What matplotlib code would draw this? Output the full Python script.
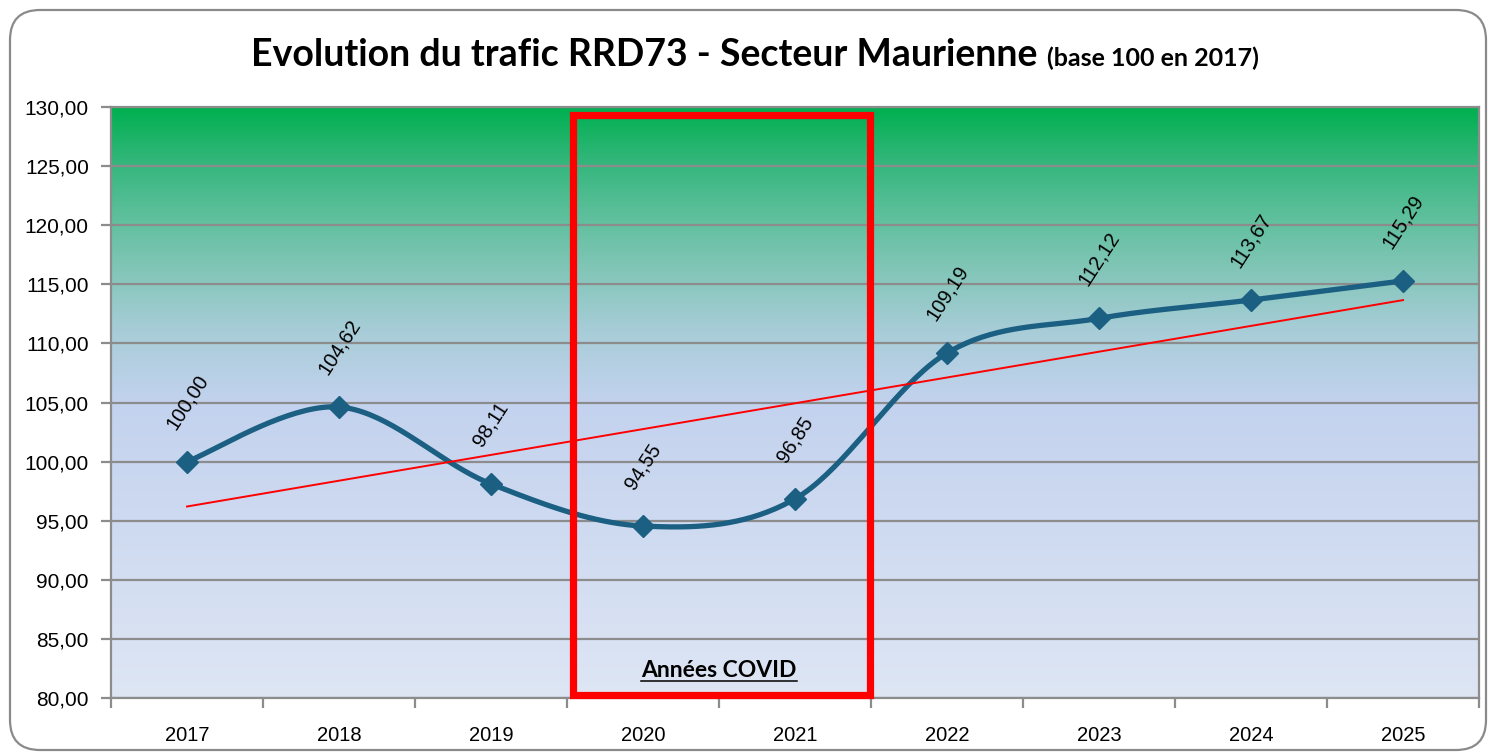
import numpy as np
import matplotlib
matplotlib.use('Agg')
import matplotlib.pyplot as plt
from matplotlib.colors import LinearSegmentedColormap
from matplotlib.patches import Rectangle, FancyBboxPatch

annees = ['2017', '2018', '2019', '2020', '2021', '2022', '2023', '2024', '2025']
trafic = [100.00, 104.62, 98.11, 94.55, 96.85, 109.19, 112.12, 113.67, 115.29]

y_min, y_max = 80, 130
covid_debut, covid_fin = 2.54, 4.49

line_col = '#1B5F82'
grid_col = '#8C8C8C'


def lissage(x, y, n=40):
    # lissage type Excel (bezier catmull-rom)
    px = np.concatenate([[x[0]], x, [x[-1]]])
    py = np.concatenate([[y[0]], y, [y[-1]]])
    xs, ys = [], []
    t = np.linspace(0, 1, n)
    for i in range(1, len(px) - 2):
        p0 = np.array([px[i], py[i]])
        p3 = np.array([px[i + 1], py[i + 1]])
        p1 = p0 + (np.array([px[i + 1], py[i + 1]]) - np.array([px[i - 1], py[i - 1]])) / 6
        p2 = p3 - (np.array([px[i + 2], py[i + 2]]) - np.array([px[i], py[i]])) / 6
        b = ((1 - t) ** 3)[:, None] * p0 + (3 * (1 - t) ** 2 * t)[:, None] * p1 \
            + (3 * (1 - t) * t ** 2)[:, None] * p2 + (t ** 3)[:, None] * p3
        xs.extend(b[:, 0]); ys.extend(b[:, 1])
    return np.array(xs), np.array(ys)


fig = plt.figure(figsize=(14.88, 7.52), dpi=100)
fig.patch.set_facecolor('white')

cadre = FancyBboxPatch((0.10, 0.02), 14.76, 7.40, boxstyle='round,pad=0,rounding_size=0.3',
                       transform=fig.dpi_scale_trans, facecolor='none', edgecolor='#8A8A8A',
                       linewidth=1.6, zorder=-1)
fig.patches.append(cadre)

ax = fig.add_axes([0.0746, 0.0718, 0.9194, 0.7859])
ax.set_xlim(-0.5, len(annees) - 0.5)
ax.set_ylim(y_min, y_max)

# fond en degrade
cmap = LinearSegmentedColormap.from_list('fond', [
    (0.0, '#DEE6F4'),
    (0.5, '#C3D2EE'),
    (0.62, '#A8CDD8'),
    (0.72, '#84C6B9'),
    (0.82, '#5CBF9B'),
    (0.91, '#33B67B'),
    (1.0, '#00B050')])
grad = np.linspace(0, 1, 256)[:, None]
ax.imshow(grad, cmap=cmap, aspect='auto', origin='lower',
          extent=[-0.5, len(annees) - 0.5, y_min, y_max], zorder=0)

ax.set_yticks(np.arange(y_min, y_max + 1, 5))
ax.set_yticklabels([f'{v:.2f}'.replace('.', ',') for v in np.arange(y_min, y_max + 1, 5)])
ax.yaxis.grid(True, color=grid_col, linewidth=1.6, zorder=1)
ax.set_axisbelow(False)

x = np.arange(len(annees))
ax.set_xticks(x)
ax.set_xticklabels(annees)
ax.set_xticks(np.arange(-0.5, len(annees)), minor=True)
ax.tick_params(axis='x', which='major', length=0, pad=20, labelsize=14.5)
ax.tick_params(axis='x', which='minor', length=7, width=1.6, color=grid_col)
ax.tick_params(axis='y', length=7, width=1.6, color=grid_col, labelsize=15, pad=9)
for s in ax.spines.values():
    s.set_color(grid_col)
    s.set_linewidth(1.6)
for lab in ax.get_xticklabels() + ax.get_yticklabels():
    lab.set_fontfamily('Liberation Sans')

# courbe lissee
xs, ys = lissage(x.astype(float), np.array(trafic))
ax.plot(xs, ys, color=line_col, linewidth=3.8, zorder=3, solid_capstyle='round')
ax.plot(x, trafic, linestyle='none', marker='D', markersize=11, color=line_col, zorder=4)

# tendance lineaire
a, b = np.polyfit(x, trafic, 1)
ax.plot(x, a * x + b, color='#FF0000', linewidth=1.4, zorder=5)

for xi, v in zip(x, trafic):
    ax.annotate(f'{v:.2f}'.replace('.', ','), (xi, v), xytext=(0, 43), textcoords='offset points',
                ha='center', va='center', rotation=57, fontsize=14.5,
                family='Liberation Sans', zorder=6)

# annees covid
ax.add_patch(Rectangle((covid_debut, 80.25), covid_fin - covid_debut, 129.3 - 80.25,
                       fill=False, edgecolor='#FF0000', linewidth=5.2, zorder=6, clip_on=False))
t_covid = ax.text(3.5, 81.8, 'Années COVID', ha='center', va='baseline', fontsize=16.5,
                  fontweight='bold', family='Lato', zorder=7)

# titre
t1 = fig.text(0.169, 0.912, 'Evolution du trafic RRD73 - Secteur Maurienne', fontsize=27,
              fontweight='bold', family='Lato', va='baseline', ha='left')

fig.canvas.draw()
r = fig.canvas.get_renderer()
bb = t1.get_window_extent(r)
fig.text((bb.x1 + 9) / fig.bbox.width, 0.912, '(base 100 en 2017)', fontsize=18,
         fontweight='bold', family='Lato', va='baseline', ha='left')

bc = t_covid.get_window_extent(r).transformed(ax.transData.inverted())
ax.plot([bc.x0, bc.x1], [81.45, 81.45], color='black', linewidth=1.1, zorder=7)

fig.savefig('out.png', dpi=100)
